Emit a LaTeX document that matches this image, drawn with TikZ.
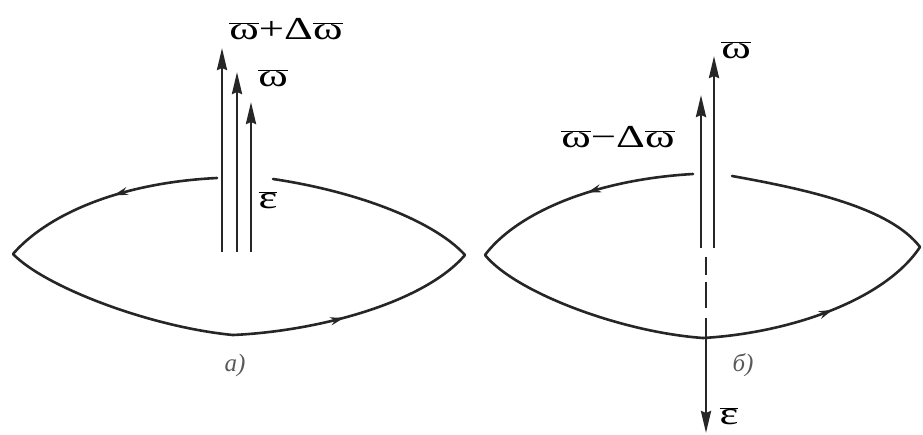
\documentclass[tikz,border=0pt]{standalone}
\usepackage{fontspec}
\setmainfont{Liberation Serif}
\usepackage{graphicx}
\usetikzlibrary{arrows.meta,decorations.markings}
\newcommand\myw{$\overline{\mbox{ω}}$}
\newcommand\mye{$\overline{\mbox{ε}}$}
\newcommand\wide[1]{\scalebox{1.4}[1]{#1}}
\begin{document}
\begin{tikzpicture}[x=1pt,y=-1pt,
  vec/.style={line width=2.6pt,draw=black!85,-{Stealth[length=22pt,width=10pt,inset=2pt]}},
  bar/.style={line width=2.6pt,draw=black!85},
  loopline/.style={line width=2.6pt,draw=black!85,line cap=round},
  mk/.style={postaction={decorate},decoration={markings,mark=at position #1 with {\arrow{Stealth[length=14pt,width=8pt]}}}},
  lbl/.style={inner sep=0pt,font=\fontsize{32}{34}\selectfont},
  capt/.style={inner sep=0pt,font=\fontsize{25}{27}\selectfont\itshape,text=black!65}]
\useasboundingbox (0,0) rectangle (923,435);

% ---------- a) ----------
\coordinate (Lt) at (217,178);
\coordinate (Ll) at (13,254);
\coordinate (Lb) at (233,335);
\coordinate (Lr) at (465,255);
\coordinate (Ls) at (273,179);
\draw[loopline,mk=0.47] (Lt) .. controls (115,183) and (45,217) .. (Ll);
\draw[loopline] (Ll) .. controls (45,287) and (150,327) .. (Lb);
\draw[loopline,mk=0.45] (Lb) .. controls (320,331) and (425,302) .. (Lr);
\draw[loopline] (Lr) .. controls (435,222) and (360,192) .. (Ls);

\coordinate (A1b) at (222,252); \coordinate (A1t) at (222,48);
\coordinate (A2b) at (237,252); \coordinate (A2t) at (237,72);
\coordinate (A3b) at (251,252); \coordinate (A3t) at (251,102);
\draw[vec] (A1b) -- (A1t);
\draw[vec] (A2b) -- (A2t);
\draw[vec] (A3b) -- (A3t);

\node[lbl] (wsum) at (286,29) {\wide{\myw+Δ\myw}};
\node[lbl] (wa) at (273,78) {\wide{\myw}};
\node[lbl] (ea) at (268,200) {\wide{\mye}};
\node[capt] (capa) at (235,365) {а)};

% ---------- б) ----------
\coordinate (Rt) at (693,174);
\coordinate (Rl) at (485,255);
\coordinate (Rb) at (703,338);
\coordinate (Rr) at (920,247);
\coordinate (Rs) at (732,176);
\draw[loopline,mk=0.47] (Rt) .. controls (590,180) and (515,215) .. (Rl);
\draw[loopline] (Rl) .. controls (515,292) and (620,332) .. (Rb);
\draw[loopline,mk=0.55] (Rb) .. controls (790,333) and (885,300) .. (Rr);
\draw[loopline] (Rr) .. controls (890,208) and (810,190) .. (Rs);

\coordinate (B1b) at (701,248); \coordinate (B1t) at (701,95);
\coordinate (B2b) at (714,248); \coordinate (B2t) at (714,56);
\draw[vec] (B1b) -- (B1t);
\draw[vec] (B2b) -- (B2t);

\coordinate (D1a) at (706,257); \coordinate (D1b) at (706,275);
\coordinate (D2a) at (706,282); \coordinate (D2b) at (706,308);
\coordinate (E0) at (706,318); \coordinate (E1) at (706,433);
\draw[bar] (D1a) -- (D1b);
\draw[bar] (D2a) -- (D2b);
\draw[vec] (E0) -- (E1);

\node[lbl] (wb) at (736,50) {\wide{\myw}};
\node[lbl] (wdiff) at (618,137) {\wide{\myw−Δ\myw}};
\node[lbl] (eb) at (729,416) {\wide{\mye}};
\node[capt] (capb) at (743,365) {б)};
\end{tikzpicture}
\end{document}
